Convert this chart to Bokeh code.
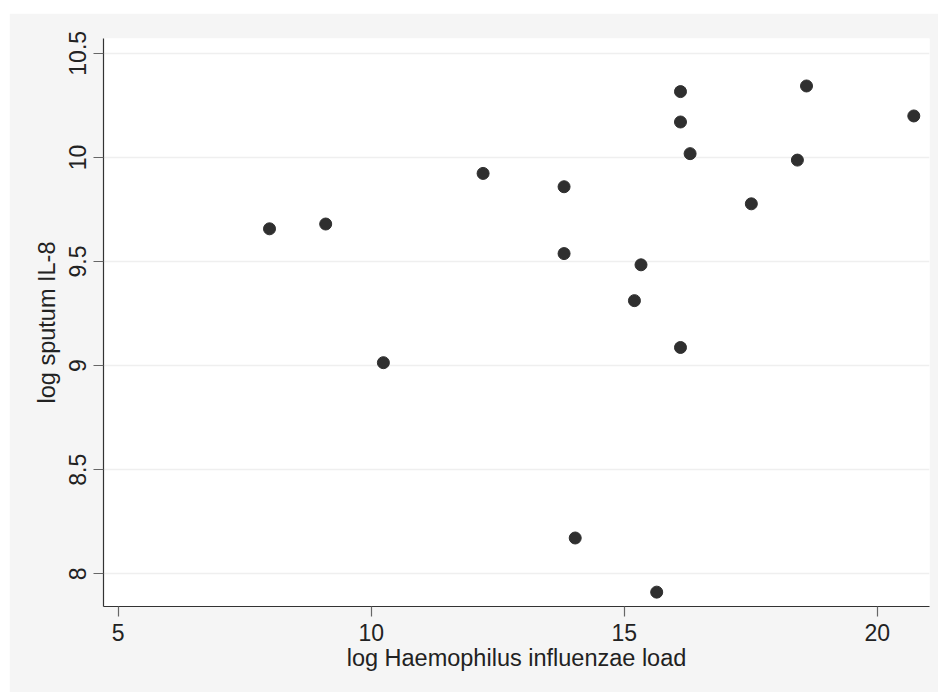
from bokeh.plotting import figure
from bokeh.layouts import column, row
from bokeh.models import FixedTicker, CustomJSTickFormatter, Range1d, Spacer
from bokeh.embed import file_html
from bokeh.resources import INLINE

# Data
x_load = [7.99, 9.10, 10.24, 12.21, 13.81, 13.81, 14.03, 15.20, 15.33, 15.64,
          16.11, 16.11, 16.11, 16.30, 17.51, 18.42, 18.60, 20.72]
y_il8 = [9.657, 9.680, 9.014, 9.923, 9.538, 9.859, 8.172, 9.312, 9.484, 7.912,
         9.087, 10.316, 10.170, 10.018, 9.777, 9.987, 10.343, 10.199]

x_ticks = [5, 10, 15, 20]
y_ticks = [8, 8.5, 9, 9.5, 10, 10.5]

x_title = "log Haemophilus influenzae load"
y_title = "log sputum IL-8"

FONT = "Liberation Sans"
BG = "#f5f5f5"

p = figure(width=929, height=679, output_backend="svg", toolbar_location=None,
           x_range=Range1d(4.71, 21.03), y_range=Range1d(7.843, 10.571),
           min_border_left=94, min_border_right=9, min_border_top=25,
           min_border_bottom=86)
p.background_fill_color = "white"
p.border_fill_color = BG
p.outline_line_color = None

p.scatter(x_load, y_il8, size=12, fill_color="#2f2f2f", line_color="#2f2f2f",
          line_width=1)

fmt = CustomJSTickFormatter(code="return String(tick);")

p.xaxis.ticker = FixedTicker(ticks=x_ticks)
p.yaxis.ticker = FixedTicker(ticks=y_ticks)
p.xaxis.formatter = fmt
p.yaxis.formatter = fmt
p.xgrid.visible = False
p.ygrid.ticker = FixedTicker(ticks=y_ticks)
p.ygrid.grid_line_color = "#efefef"
p.ygrid.grid_line_width = 1.5

for ax in (p.xaxis, p.yaxis):
    ax.axis_line_color = "#333333"
    ax.axis_line_width = 1.2
    ax.major_tick_line_color = "#666666"
    ax.major_tick_line_width = 1.2
    ax.major_tick_out = 10
    ax.major_tick_in = 0
    ax.minor_tick_out = 0
    ax.minor_tick_in = 0
    ax.major_label_text_font = FONT
    ax.major_label_text_font_size = "23px"
    ax.major_label_text_color = "#222222"
    ax.axis_label_text_font = FONT
    ax.axis_label_text_font_size = "23.5px"
    ax.axis_label_text_font_style = "normal"
    ax.axis_label_text_color = "#222222"

p.xaxis.axis_label = x_title
p.yaxis.axis_label = y_title
p.yaxis.major_label_orientation = "vertical"
p.xaxis.major_label_standoff = 7
p.yaxis.major_label_standoff = 7
p.xaxis.axis_label_standoff = 1
p.yaxis.axis_label_standoff = 7

layout = column(Spacer(height=13, width=938),
                row(Spacer(width=9, height=679), p, spacing=0),
                spacing=0)

open("out.html", "w").write(file_html(layout, INLINE))
